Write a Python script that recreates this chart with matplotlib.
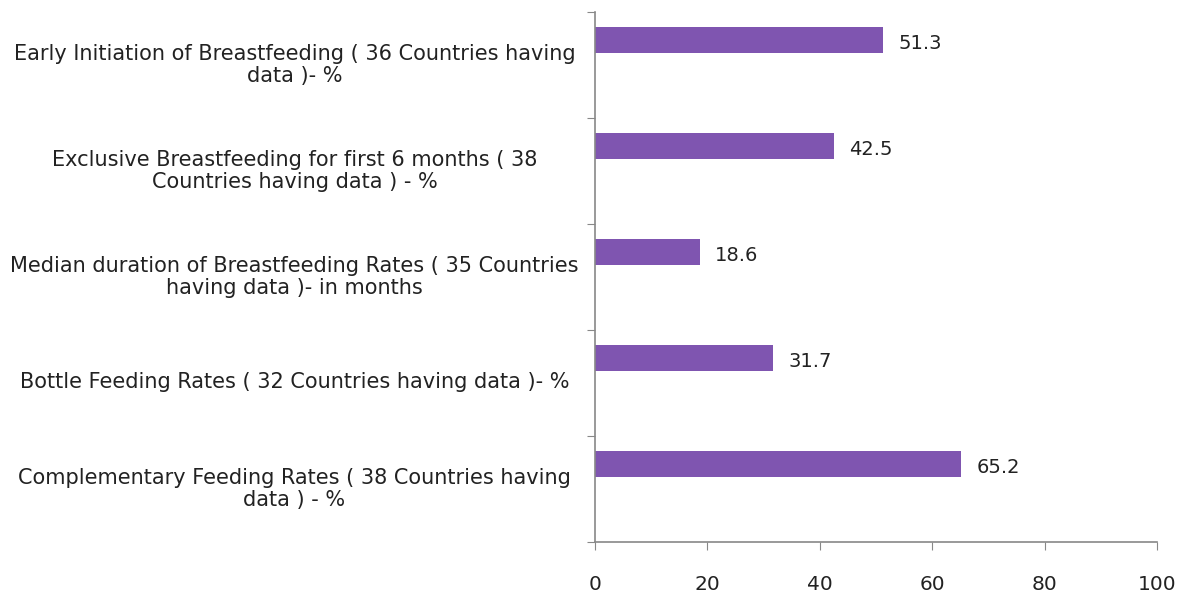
import matplotlib
matplotlib.use("Agg")
import matplotlib.pyplot as plt
import matplotlib.transforms as mtransforms
import numpy as np

categories = [
    "Early Initiation of Breastfeeding ( 36 Countries having\ndata )- %",
    "Exclusive Breastfeeding for first 6 months ( 38\nCountries having data ) - %",
    "Median duration of Breastfeeding Rates ( 35 Countries\nhaving data )- in months",
    "Bottle Feeding Rates ( 32 Countries having data )- %",
    "Complementary Feeding Rates ( 38 Countries having\ndata ) - %",
]
values = [51.3, 42.5, 18.6, 31.7, 65.2]
xticks = [0, 20, 40, 60, 80, 100]

fig = plt.figure(figsize=(11.83, 5.99), dpi=100)
ax = fig.add_axes([0.503, 0.095, 0.475, 0.885])

n = len(categories)
ypos = np.arange(n)
bar_pos = ypos - 0.235
ax.barh(bar_pos, values, height=0.24, color="#7f55b0", zorder=2)
ax.set_ylim(n - 0.5, -0.5)
ax.set_xlim(0, 100)

for y, v in zip(bar_pos, values):
    ax.text(v + 2.7, y + 0.03, f"{v}", va="center", ha="left", fontsize=14, color="#222222")

ax.set_yticks(np.arange(-0.5, n, 1.0))
ax.set_yticklabels([])
ax.set_yticks(ypos, minor=True)
ax.set_yticklabels(categories, minor=True, ha="center", fontsize=15, color="#222222",
                   linespacing=1.1)
ax.tick_params(axis="y", which="minor", length=0, pad=0)
for lab in ax.get_yticklabels(minor=True):
    lab.set_multialignment("center")
ax.tick_params(axis="y", which="major", length=6, direction="out", color="#888888")

offset = mtransforms.ScaledTranslation(-3.005, 0.03, fig.dpi_scale_trans)
for lab in ax.get_yticklabels(minor=True):
    lab.set_transform(lab.get_transform() + offset)

ax.set_xticks(xticks)
ax.set_xticklabels([str(t) for t in xticks], fontsize=14.5, color="#222222")
ax.tick_params(axis="x", length=6, direction="out", color="#888888", pad=17.5)

for s in ["top", "right"]:
    ax.spines[s].set_visible(False)
for s in ["left", "bottom"]:
    ax.spines[s].set_color("#888888")
    ax.spines[s].set_linewidth(1.2)

fig.savefig("out.png", dpi=100)
